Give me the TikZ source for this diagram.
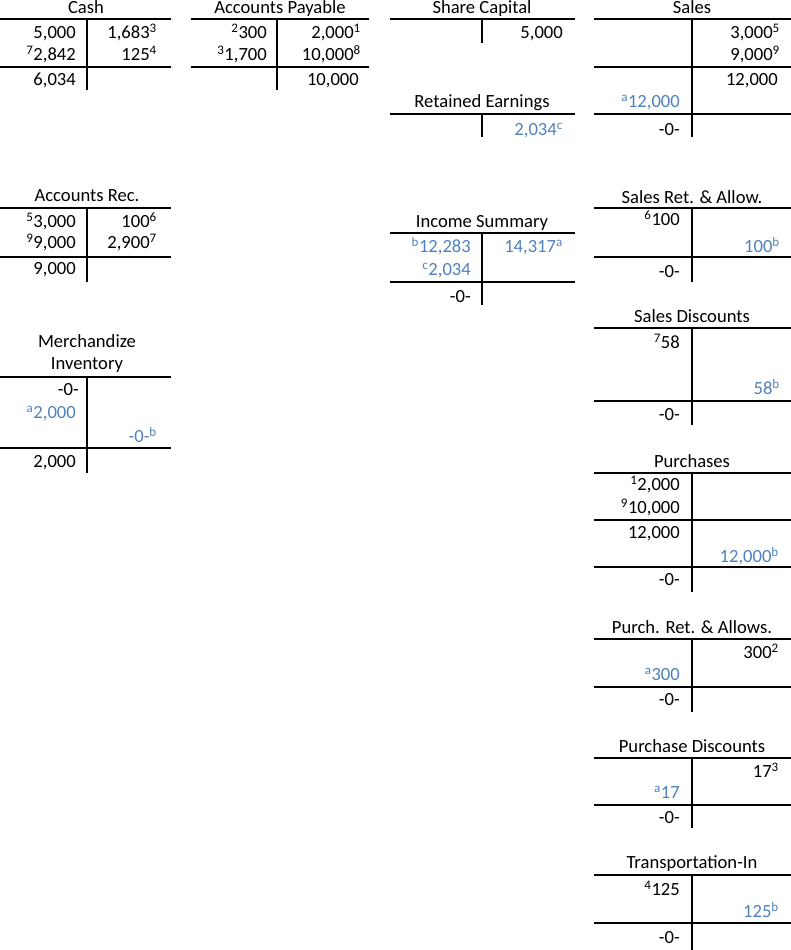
\documentclass[tikz,border=0pt]{standalone}
\usepackage{fontspec}
\setmainfont{Carlito}
\usepackage{xcolor}
\usepackage{tikz}
\definecolor{adjblue}{RGB}{79,129,189}

\begin{document}
\begin{tikzpicture}[x=1pt, y=-1pt, font=\fontsize{18.6}{22}\selectfont,
  t/.style={inner sep=0pt, text height=11.8pt, text depth=0pt},
  hd/.style={t, anchor=center},
  en/.style={t, anchor=east},
  adj/.style={en, text=adjblue},
  ln/.style={line width=1.1pt}]
 \useasboundingbox (0,0) rectangle (791,950);
 % Cash
 \node[hd] (cash) at (86,8) {Cash};
 \draw[ln] (0,19) -- (171,19); \draw[ln] (0,67) -- (171,67); \draw[ln] (87,19) -- (87,90);
 \node[en] (cashd1) at (76,33) {5,000};
 \node[en] (cashd2) at (76,55) {\llap{\textsuperscript{7}}2,842};
 \node[en] (cashb) at (76,80) {6,034};
 \node[en] (cashc1) at (157,33) {1,683\textsuperscript{3}};
 \node[en] (cashc2) at (157,55) {125\textsuperscript{4}};
 % Accounts Payable
 \node[hd] (ap) at (280,8) {Accounts Payable};
 \draw[ln] (191,19) -- (369,19); \draw[ln] (191,67) -- (369,67); \draw[ln] (277,19) -- (277,90);
 \node[en] (apd1) at (267,33) {\llap{\textsuperscript{2}}300};
 \node[en] (apd2) at (267,55) {\llap{\textsuperscript{3}}1,700};
 \node[en] (apc1) at (361,33) {2,000\textsuperscript{1}};
 \node[en] (apc2) at (361,55) {10,000\textsuperscript{8}};
 \node[en] (apb) at (359,80) {10,000};
 % Share Capital
 \node[hd] (sc) at (482,8) {Share Capital};
 \draw[ln] (390,19) -- (575,19); \draw[ln] (482,19) -- (482,43);
 \node[en] (scc1) at (563,33) {5,000};
 % Retained Earnings
 \node[hd] (re) at (482,102) {Retained Earnings};
 \draw[ln] (390,114) -- (575,114); \draw[ln] (482,114) -- (482,137);
 \node[adj] (rec1) at (563,130) {2,034\textsuperscript{c}};
 % Sales
 \node[hd] (sal) at (692,8) {Sales};
 \draw[ln] (594,19) -- (791,19); \draw[ln] (594,67) -- (791,67); \draw[ln] (594,114) -- (791,114);
 \draw[ln] (692,19) -- (692,137);
 \node[en] (salc1) at (780,33) {3,000\textsuperscript{5}};
 \node[en] (salc2) at (780,55) {9,000\textsuperscript{9}};
 \node[en] (salb) at (778,80) {12,000};
 \node[adj] (sald1) at (680,102) {\llap{\textsuperscript{a}}12,000};
 \node[en] (salz) at (680,130) {-0-};
 % Accounts Rec.
 \node[hd] (ar) at (87,196) {Accounts Rec.};
 \draw[ln] (0,208) -- (171,208); \draw[ln] (0,257) -- (171,257); \draw[ln] (87,208) -- (87,282);
 \node[en] (ard1) at (76,222) {\llap{\textsuperscript{5}}3,000};
 \node[en] (ard2) at (76,243) {\llap{\textsuperscript{9}}9,000};
 \node[en] (arb) at (76,269) {9,000};
 \node[en] (arc1) at (157,222) {100\textsuperscript{6}};
 \node[en] (arc2) at (157,243) {2,900\textsuperscript{7}};
 % Merchandize Inventory
 \node[align=center, inner sep=0pt] (mi) at (87,354) {Merchandize\\Inventory};
 \draw[ln] (0,377) -- (171,377); \draw[ln] (0,448) -- (171,448); \draw[ln] (87,377) -- (87,473);
 \node[en] (miz) at (79,390) {-0-};
 \node[adj] (mid1) at (76,413) {\llap{\textsuperscript{a}}2,000};
 \node[adj] (mic1) at (157,437) {-0-\textsuperscript{b}};
 \node[en] (mib) at (76,462) {2,000};
 % Income Summary
 \node[hd] (is) at (482,222) {Income Summary};
 \draw[ln] (390,233) -- (575,233); \draw[ln] (390,282) -- (575,282); \draw[ln] (482,233) -- (482,305);
 \node[adj] (isd1) at (471,247) {\llap{\textsuperscript{b}}12,283};
 \node[adj] (isd2) at (471,270) {\llap{\textsuperscript{c}}2,034};
 \node[adj] (isc1) at (563,247) {14,317\textsuperscript{a}};
 \node[en] (isz) at (471,297) {-0-};
 % Sales Ret. & Allow.
 \node[hd] (sra) at (692,198) {Sales Ret. \& Allow.};
 \draw[ln] (594,208) -- (791,208); \draw[ln] (594,257) -- (791,257); \draw[ln] (692,208) -- (692,282);
 \node[en] (srad1) at (680,220) {\llap{\textsuperscript{6}}100};
 \node[adj] (srac1) at (780,247) {100\textsuperscript{b}};
 \node[en] (sraz) at (680,272) {-0-};
 % Sales Discounts
 \node[hd] (sd) at (692,317) {Sales Discounts};
 \draw[ln] (594,328) -- (791,328); \draw[ln] (594,401) -- (791,401); \draw[ln] (692,328) -- (692,425);
 \node[en] (sdd1) at (680,343) {\llap{\textsuperscript{7}}58};
 \node[adj] (sdc1) at (780,389) {58\textsuperscript{b}};
 \node[en] (sdz) at (680,415) {-0-};
 % Purchases
 \node[hd] (pur) at (692,462) {Purchases};
 \draw[ln] (594,473) -- (791,473); \draw[ln] (594,520) -- (791,520); \draw[ln] (594,567) -- (791,567);
 \draw[ln] (692,473) -- (692,592);
 \node[en] (purd1) at (680,485) {\llap{\textsuperscript{1}}2,000};
 \node[en] (purd2) at (680,508) {\llap{\textsuperscript{9}}10,000};
 \node[en] (purb) at (680,533) {12,000};
 \node[adj] (purc1) at (779,557) {12,000\textsuperscript{b}};
 \node[en] (purz) at (680,580) {-0-};
 % Purch. Ret. & Allows.
 \node[hd] (pra) at (692,628) {Purch. Ret. \& Allows.};
 \draw[ln] (594,639) -- (791,639); \draw[ln] (594,687) -- (791,687); \draw[ln] (692,639) -- (692,712);
 \node[en] (prac1) at (779,653) {300\textsuperscript{2}};
 \node[adj] (prad1) at (680,675) {\llap{\textsuperscript{a}}300};
 \node[en] (praz) at (680,700) {-0-};
 % Purchase Discounts
 \node[hd] (pd) at (692,747) {Purchase Discounts};
 \draw[ln] (594,758) -- (791,758); \draw[ln] (594,805) -- (791,805); \draw[ln] (692,758) -- (692,828);
 \node[en] (pdc1) at (779,772) {17\textsuperscript{3}};
 \node[adj] (pdd1) at (680,793) {\llap{\textsuperscript{a}}17};
 \node[en] (pdz) at (680,818) {-0-};
 % Transportation-In
 \node[hd] (ti) at (692,863) {Transportation-In};
 \draw[ln] (594,875) -- (791,875); \draw[ln] (594,923) -- (791,923); \draw[ln] (692,875) -- (692,950);
 \node[en] (tid1) at (680,890) {\llap{\textsuperscript{4}}125};
 \node[adj] (tic1) at (779,912) {125\textsuperscript{b}};
 \node[en] (tiz) at (680,938) {-0-};
\end{tikzpicture}
\end{document}
